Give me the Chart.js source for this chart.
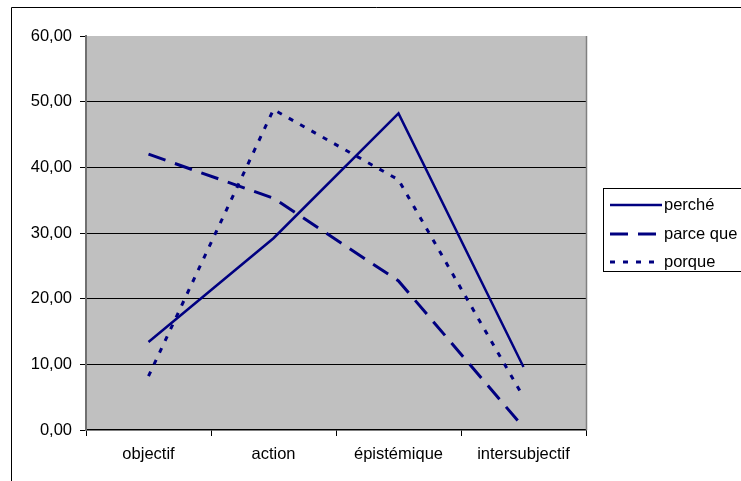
<!DOCTYPE html>
<html>
<head>
<meta charset="utf-8">
<script src="https://cdn.jsdelivr.net/npm/chart.js@4/dist/chart.umd.min.js"></script>
<style>
  html, body { margin: 0; padding: 0; background: #fff; }
  #wrap { width: 741px; height: 481px; position: relative; }
</style>
</head>
<body>
<div id="wrap"><canvas id="chart" width="741" height="481"></canvas></div>
<script>
// Data
const categories = ['objectif', 'action', 'épistémique', 'intersubjectif'];
const seriesNames = ['perché', 'parce que', 'porque'];
const perche = [13.4, 29.2, 48.2, 9.6];
const parceQue = [42.0, 35.3, 22.7, 0.4];
const porque = [8.2, 48.8, 38.1, 5.0];
const yTicks = [0, 10, 20, 30, 40, 50, 60];

const NAVY = '#000080';
const FONT = "'Liberation Sans', Arial, sans-serif";
const FONT_SIZE = 16.5;

// grey plot background + outer frame
const backdrop = {
    id: 'backdrop',
    beforeDraw: function(chart) {
        const ctx = chart.ctx;
        const a = chart.chartArea;
        ctx.save();
        ctx.fillStyle = '#fff';
        ctx.fillRect(0, 0, chart.width, chart.height);
        ctx.strokeStyle = '#000';
        ctx.lineWidth = 1;
        ctx.beginPath();
        ctx.moveTo(11.5, chart.height);
        ctx.lineTo(11.5, 7.5);
        ctx.lineTo(chart.width, 7.5);
        ctx.stroke();
        ctx.fillStyle = '#C0C0C0';
        ctx.fillRect(a.left, a.top, a.right - a.left, a.bottom - a.top);
        ctx.restore();
    },
    afterDatasetsDraw: function(chart) {
        const ctx = chart.ctx;
        const a = chart.chartArea;
        ctx.save();
        ctx.strokeStyle = '#808080';
        ctx.lineWidth = 1.5;
        ctx.beginPath();
        ctx.moveTo(a.right + 0.5, a.top);
        ctx.lineTo(a.right + 0.5, a.bottom);
        ctx.stroke();
        ctx.restore();
    }
};

// Excel-like legend box on the right
const boxLegend = {
    id: 'boxLegend',
    afterDraw: function(chart) {
        const ctx = chart.ctx;
        ctx.save();
        ctx.strokeStyle = '#000';
        ctx.lineWidth = 1;
        ctx.fillStyle = '#fff';
        ctx.fillRect(603, 188, 150, 83);
        ctx.strokeRect(603.5, 188.5, 150, 83);
        const rowsY = [205, 234, 262];
        chart.data.datasets.forEach(function(ds, i) {
            const y = rowsY[i];
            ctx.strokeStyle = ds.borderColor;
            ctx.lineWidth = ds.borderWidth;
            ctx.setLineDash(ds.borderDash || []);
            ctx.beginPath();
            ctx.moveTo(610, y);
            ctx.lineTo(662, y);
            ctx.stroke();
            ctx.setLineDash([]);
            ctx.fillStyle = '#000';
            ctx.font = FONT_SIZE + 'px ' + FONT;
            ctx.textBaseline = 'middle';
            ctx.fillText(ds.label, 664, y);
        });
        ctx.restore();
    }
};

function makeSet(label, data, dash, width) {
    return {
        label: label,
        data: data,
        borderColor: NAVY,
        backgroundColor: NAVY,
        borderWidth: width,
        borderDash: dash,
        pointRadius: 0,
        tension: 0,
        fill: false
    };
}

new Chart(document.getElementById('chart'), {
    type: 'line',
    data: {
        labels: categories,
        datasets: [
            makeSet(seriesNames[0], perche, [], 2.5),
            makeSet(seriesNames[1], parceQue, [18, 10], 3),
            makeSet(seriesNames[2], porque, [5, 8], 3)
        ]
    },
    options: {
        responsive: false,
        animation: false,
        devicePixelRatio: 1,
        layout: { padding: { top: 36, right: 155, left: 0, bottom: 0 } },
        plugins: {
            legend: { display: false },
            tooltip: { enabled: false }
        },
        scales: {
            x: {
                offset: true,
                grid: {
                    offset: true,
                    drawOnChartArea: false,
                    color: '#000',
                    tickLength: 6
                },
                border: { color: '#000', width: 1.5 },
                ticks: {
                    color: '#000',
                    padding: 9,
                    font: { family: FONT, size: FONT_SIZE }
                },
                afterFit: function(s) { s.height = 51; }
            },
            y: {
                min: 0,
                max: 60,
                afterBuildTicks: function(s) {
                    s.ticks = yTicks.map(function(v) { return { value: v }; });
                },
                grid: {
                    color: function(c) {
                        return (c.tick && (c.tick.value === 60 || c.tick.value === 0)) ? 'rgba(0,0,0,0)' : '#000';
                    },
                    tickColor: '#000',
                    tickLength: 6,
                    lineWidth: 1
                },
                border: { color: '#707070', width: 2 },
                ticks: {
                    color: '#000',
                    padding: 8,
                    font: { family: FONT, size: FONT_SIZE }
                    ,
                    callback: function(v) { return v.toFixed(2).replace('.', ','); }
                },
                afterFit: function(s) { s.width = 86; }
            }
        }
    },
    plugins: [backdrop, boxLegend]
});
</script>
</body>
</html>
